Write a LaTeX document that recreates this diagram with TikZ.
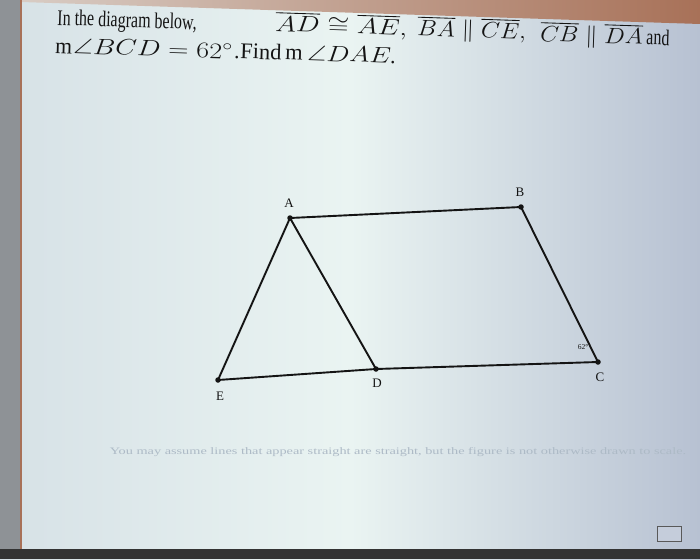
\documentclass[tikz,border=0pt]{standalone}
\usepackage{amssymb}
\usepackage{graphicx}
\usepackage{fontspec}
\setmainfont{Liberation Serif}
\definecolor{bgA}{HTML}{D6E1E6}
\definecolor{bgB}{HTML}{EAF4F2}
\definecolor{bgC}{HTML}{B7C1D2}
\definecolor{ink}{HTML}{141414}
\definecolor{bezel}{HTML}{8E9296}
\definecolor{topL}{HTML}{D8CCC4}
\definecolor{topR}{HTML}{A87158}
\definecolor{footer}{HTML}{ADBAC6}
\newcommand\HT[2][1]{\scalebox{#1}[1.4]{\fontsize{16}{18}\selectfont #2}}
\newcommand\HM[2][1.1]{\scalebox{#1}[0.9]{\fontsize{24}{28}\selectfont$#2$}}
\tikzset{
  seg/.style={draw=ink, line width=1.9pt},
  vtx/.style={circle, fill=ink, inner sep=0pt, minimum size=5.5pt},
  lbl/.style={font=\fontsize{13}{15}\selectfont, text=ink, inner sep=0pt},
  head/.style={anchor=base west, inner sep=0pt, text=ink, rotate=-1.9},
}
\begin{document}
\begin{tikzpicture}[x=1pt,y=-1pt]
\useasboundingbox (0,0) rectangle (700,559);
% screen background
\shade[left color=bgA, right color=bgC, middle color=bgB] (0,0) rectangle (700,559);
\fill[bezel] (0,0) rectangle (20,559);
\shade[left color=topL, right color=topR] (21,0) -- (700,0) -- (700,24) -- (21,2) -- cycle;
\draw[topR, line width=1.5pt] (21,0) -- (21,559);
\fill[black!80] (0,549) rectangle (700,559);
% heading, line 1
\node[head] (t1a) at (57,25) {\HT{In the diagram below,}};
\node[head] (t1b) at (275,31) {\HM[1.13]{\overline{AD}\cong\overline{AE},}};
\node[head] (t1c) at (417,35.5) {\HM[0.99]{\overline{BA}\parallel\overline{CE},}};
\node[head] (t1d) at (540,41) {\HM[0.98]{\overline{CB}\parallel\overline{DA}}};
\node[head] (t1e) at (646,44.5) {\HT{and}};
% heading, line 2
\node[head] (t2a) at (55,53) {\HT[1.35]{m}};
\node[head] (t2b) at (73,53.5) {\HM[1.13]{\angle BCD=62^\circ}};
\node[head] (t2c) at (234,58) {\HT[1.35]{.}};
\node[head] (t2d) at (240,58.5) {\HT[1.4]{Find}};
\node[head] (t2e) at (285,59.8) {\HT[1.4]{m}};
\node[head] (t2f) at (307,60.5) {\HM[1.1]{\angle DAE}};
\node[head] (t2g) at (390,63) {\HT[1.35]{.}};
% vertices
\node[vtx] (A) at (290,218) {};
\node[vtx] (B) at (521,207) {};
\node[vtx] (C) at (598,362) {};
\node[vtx] (D) at (376,369) {};
\node[vtx] (E) at (218,380) {};
\node[lbl] (lA) at (289,203) {A};
\node[lbl] (lB) at (520,192) {B};
\node[lbl] (lC) at (600,377) {C};
\node[lbl] (lD) at (377,383) {D};
\node[lbl] (lE) at (220,396) {E};
\node[lbl, font=\fontsize{7.5}{8}\selectfont] (ang) at (583,347) {62°};
% segments
\draw[seg, line join=round] (A.center) -- (B.center) -- (C.center) -- (D.center) -- (E.center) -- (A.center) -- (D.center);
% footer
\node[inner sep=0pt, text=footer] (foot) at (398,452) {\scalebox{1.3}[0.9]{\fontsize{11}{12}\selectfont You may assume lines that appear straight are straight, but the figure is not otherwise drawn to scale.}};
% keyboard icon
\node[draw=black!65, fill=bgC!80!white, minimum width=24pt, minimum height=15pt, inner sep=0pt, line width=0.9pt] (kb) at (669,534) {};
\end{tikzpicture}
\end{document}
